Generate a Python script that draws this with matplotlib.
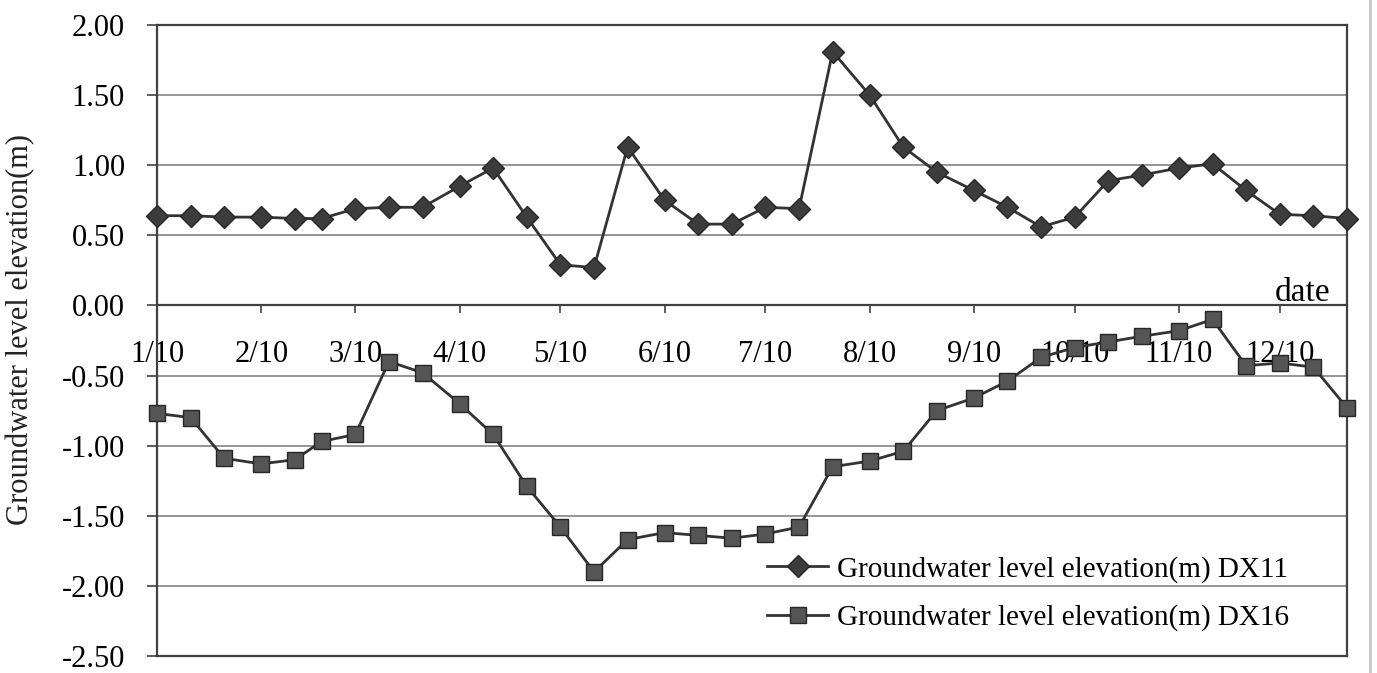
import datetime as dt
import matplotlib
matplotlib.use("Agg")
import matplotlib.pyplot as plt
import matplotlib.dates as mdates
from matplotlib.lines import Line2D

# даты замеров: 10, 20 и 30 (28) число каждого месяца
year = 2011
days = [10, 20, 30]
dates = []
for m in range(1, 13):
    for d in days:
        if m == 2 and d == 30:
            d = 28
        dates.append(dt.date(year, m, d))

dx11 = [0.64, 0.64, 0.63, 0.63, 0.62, 0.62, 0.69, 0.70, 0.70, 0.85, 0.98, 0.63,
        0.29, 0.27, 1.13, 0.75, 0.58, 0.58, 0.70, 0.69, 1.81, 1.50, 1.13, 0.95,
        0.82, 0.70, 0.56, 0.63, 0.89, 0.93, 0.98, 1.01, 0.82, 0.65, 0.64, 0.62]
dx16 = [-0.77, -0.80, -1.09, -1.13, -1.10, -0.97, -0.92, -0.40, -0.48, -0.70, -0.92, -1.29,
        -1.58, -1.90, -1.67, -1.62, -1.64, -1.66, -1.63, -1.58, -1.15, -1.11, -1.04, -0.75,
        -0.66, -0.54, -0.37, -0.30, -0.26, -0.22, -0.18, -0.10, -0.43, -0.41, -0.44, -0.73]

label11 = 'Groundwater level elevation(m) DX11'
label16 = 'Groundwater level elevation(m) DX16'

plt.rcParams['font.family'] = ['Liberation Serif', 'DejaVu Serif']

fig = plt.figure(figsize=(13.77, 6.73), dpi=100)
ax = fig.add_axes([157/1377, 1 - 656/673, 1190/1377, 631/673])

ax.plot(dates, dx11, color='#333333', lw=2, marker='D', ms=11,
        mfc='#3c3c3c', mec='#262626', mew=1, label=label11, clip_on=False, zorder=4)
ax.plot(dates, dx16, color='#333333', lw=2, marker='s', ms=11.5,
        mfc='#555555', mec='#262626', mew=1, label=label16, clip_on=False, zorder=4)

ax.set_xlim(dt.date(year, 1, 10), dt.date(year, 12, 30))
ax.set_ylim(-2.5, 2.0)
ax.set_yticks([2.0, 1.5, 1.0, 0.5, 0.0, -0.5, -1.0, -1.5, -2.0, -2.5])
ax.yaxis.set_major_formatter(plt.FuncFormatter(lambda v, p: f'{v:.2f}'))

ax.xaxis.set_major_locator(mdates.MonthLocator(bymonthday=10))
ax.xaxis.set_major_formatter(plt.FuncFormatter(
    lambda v, p: f'{mdates.num2date(v).month}/{mdates.num2date(v).day}'))

# ось X проходит через ноль
ax.spines['bottom'].set_position(('data', 0))
ax.axhline(-2.5, color='#404040', lw=1.6, clip_on=False, zorder=5)
for s in ['left', 'right', 'top', 'bottom']:
    ax.spines[s].set_color('#404040')
    ax.spines[s].set_linewidth(1.6)

ax.tick_params(axis='x', direction='out', length=6, width=1.2, color='#404040',
               labelsize=22, pad=19)
ax.tick_params(axis='y', direction='out', length=7, width=1.2, color='#404040',
               labelsize=22, pad=16)

ax.grid(True, axis='y', color='#8c8c8c', lw=1.3)
ax.set_axisbelow(True)

ax.set_ylabel('Groundwater level elevation(m)', fontsize=22, color='#222222')
ax.yaxis.set_label_coords(-0.1025, 0.517)

ax.text(0.986, 0.562, 'date', transform=ax.transAxes, ha='right', va='baseline',
        fontsize=24)

ax.legend(loc='center left', bbox_to_anchor=(767/1377, 1 - 593.5/673),
          bbox_transform=fig.transFigure, frameon=False, fontsize=21,
          handlelength=2.1, handletextpad=0.3, borderpad=0, borderaxespad=0,
          labelspacing=0.75)

fig.add_artist(Line2D([1370/1377, 1370/1377], [0, 1], transform=fig.transFigure,
                      color='#c8c8c8', lw=2))

fig.savefig('out.png', dpi=100)
